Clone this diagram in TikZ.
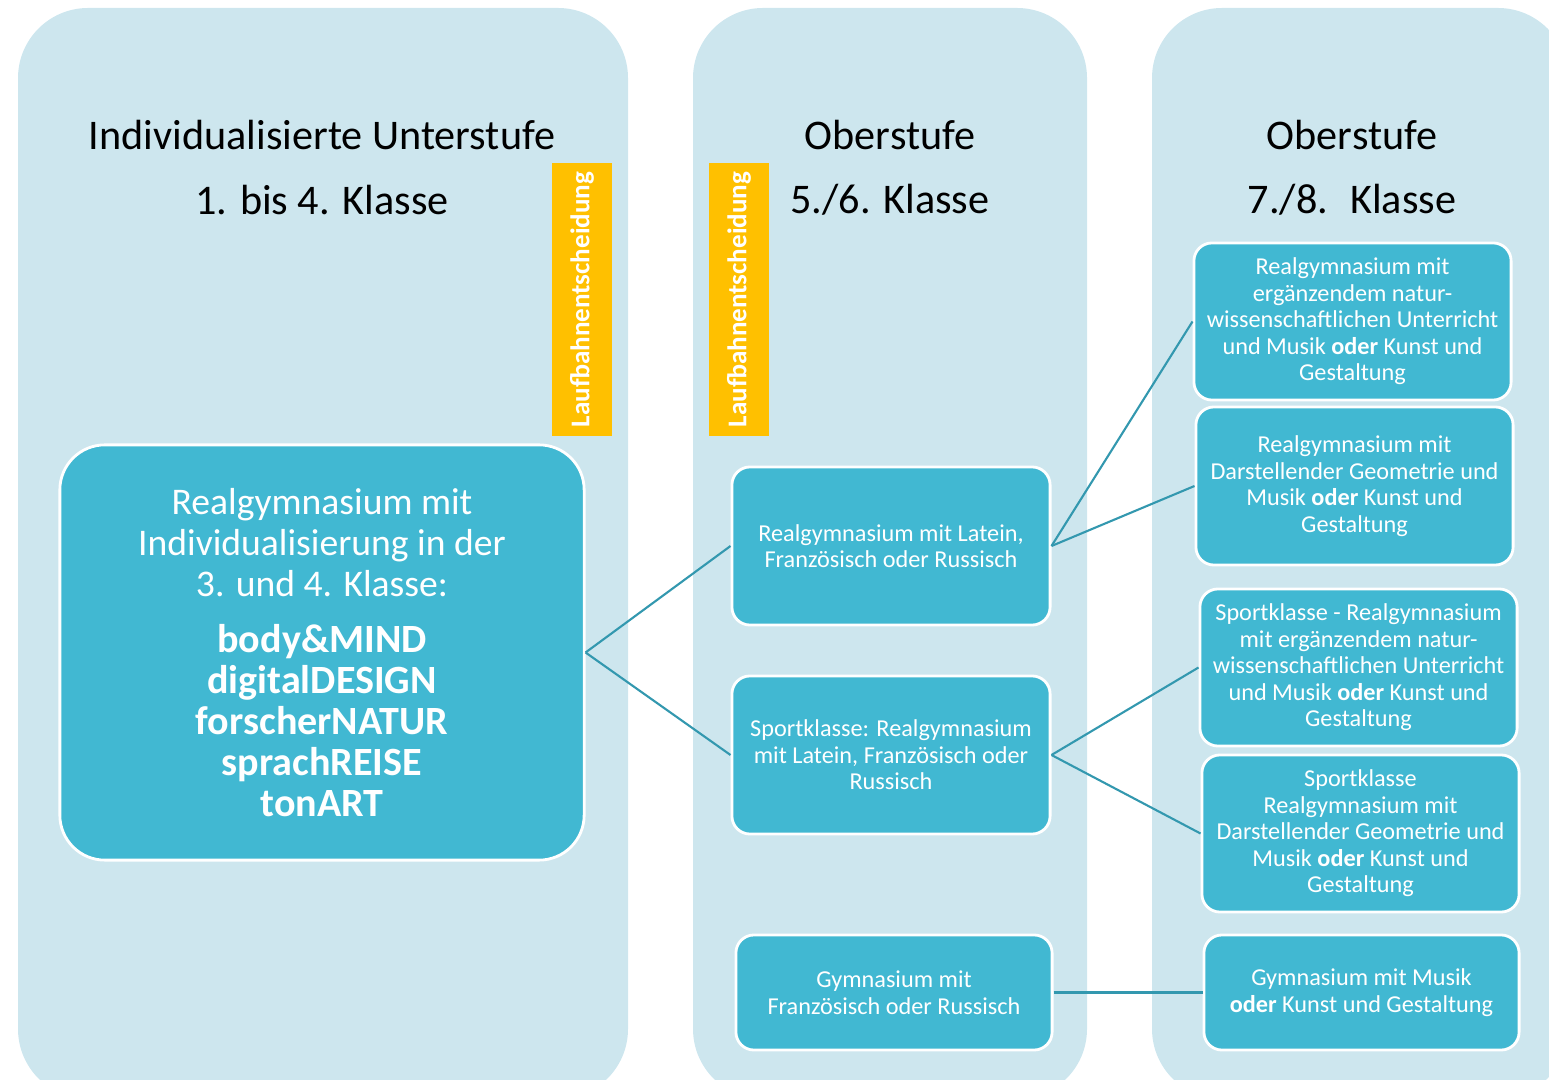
\documentclass[tikz,border=0pt]{standalone}
\usepackage{fontspec}
\setmainfont{Carlito}
\definecolor{colbg}{HTML}{CDE6EE}
\definecolor{boxfill}{HTML}{41B8D2}
\definecolor{linkcol}{HTML}{3398AF}
\definecolor{markyellow}{HTML}{FFC000}
\newcommand{\profil}[1]{{\bfseries\fontsize{11.4}{11.67}\selectfont #1}}

\begin{document}
\begin{tikzpicture}[x=0.01cm, y=-0.01cm,
		column/.style={fill=colbg, rounded corners=0.7cm},
		box/.style={draw=white, line width=0.8pt, fill=boxfill, text=white, rounded corners=0.18cm, align=center, inner sep=0pt, minimum width=3.17cm, minimum height=1.57cm, font=\fontsize{6.9}{7.55}\selectfont},
		head/.style={font=\fontsize{12}{14}\selectfont},
		decision/.style={fill=markyellow, text=white, rotate=90, minimum width=2.73cm, minimum height=0.6cm, inner sep=0pt, font=\bfseries\fontsize{7.7}{9}\selectfont},
		link/.style={draw=linkcol, line width=0.6pt}]
		
			\useasboundingbox (0,0) rectangle (1549,1080);
			\clip (0,0) rectangle (1549,1080);
	
			\begin{scope}
				\fill[column] (18,8) rectangle (628,1099);
				\fill[column] (693,8) rectangle (1087,1099);
				\fill[column] (1152,8) rectangle (1568,1099);
			\end{scope}
	
			\node[head] (headU) at (322,135) {Individualisierte Unterstufe};
			\node[head] (headUk) at (322,200) {1. bis 4. Klasse};
			\node[head] (headO) at (890,135) {Oberstufe};
			\node[head] (headOk) at (890,200) {5./6. Klasse};
			\node[head] (headOO) at (1352,135) {Oberstufe};
			\node[head] (headOOk) at (1352,200) {7./8.~ Klasse};
	
			\node[decision] (decU) at (582,299.5) {Laufbahnentscheidung};
			\node[decision] (decO) at (739,299.5) {Laufbahnentscheidung};
	
			\node[box, rounded corners=0.45cm, minimum width=5.24cm, minimum height=4.15cm, font=\fontsize{10.7}{11.67}\selectfont] (indiv) at (322,652.5)
				{Realgymnasium mit\\Individualisierung in der\\3. und 4. Klasse:\\[4.3pt]\profil{body\&MIND}\\\profil{digitalDESIGN}\\\profil{forscherNATUR}\\\profil{sprachREISE}\\\profil{tonART}};
	
			\node[box, minimum width=3.18cm, minimum height=1.58cm] (latein) at (891,546) {Realgymnasium mit Latein,\\Französisch oder Russisch};
			\node[box, minimum width=3.18cm, minimum height=1.58cm] (sport) at (891,755) {Sportklasse: Realgymnasium\\mit Latein, Französisch oder\\Russisch};
			\node[box, minimum width=3.16cm, minimum height=1.15cm] (gym) at (894,992.5) {Gymnasium mit\\Französisch oder Russisch};
	
			\node[box] (natur) at (1352.5,321.5) {Realgymnasium mit\\ergänzendem natur-\\wissenschaftlichen Unterricht\\und Musik \textbf{oder} Kunst und\\Gestaltung};
			\node[box, minimum height=1.58cm] (geo) at (1354.5,486) {Realgymnasium mit\\Darstellender Geometrie und\\Musik \textbf{oder} Kunst und\\Gestaltung};
			\node[box] (sportnatur) at (1358.5,667.5) {Sportklasse - Realgymnasium\\mit ergänzendem natur-\\wissenschaftlichen Unterricht\\und Musik \textbf{oder} Kunst und\\Gestaltung};
			\node[box] (sportgeo) at (1360.5,833.5) {Sportklasse\\Realgymnasium mit\\Darstellender Geometrie und\\Musik \textbf{oder} Kunst und\\Gestaltung};
			\node[box, minimum width=3.15cm, minimum height=1.15cm] (gymmusik) at (1361.5,992.5) {Gymnasium mit Musik\\\textbf{oder} Kunst und Gestaltung};
	
			\draw[link] (indiv.east) -- (latein.west);
			\draw[link] (indiv.east) -- (sport.west);
			\draw[link] (latein.east) -- (natur.west);
			\draw[link] (latein.east) -- (geo.west);
			\draw[link] (sport.east) -- (sportnatur.west);
			\draw[link] (sport.east) -- (sportgeo.west);
			\draw[link] (gym.east) -- (gymmusik.west);
		\end{tikzpicture}
\end{document}
